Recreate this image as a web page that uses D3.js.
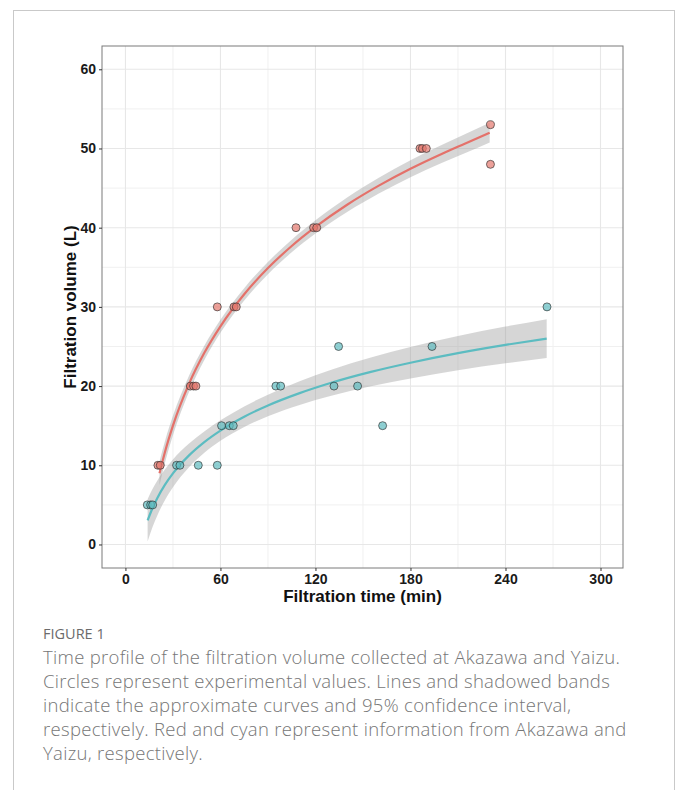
<!DOCTYPE html>
<html>
<head>
<meta charset="utf-8">
<script src="https://cdn.jsdelivr.net/npm/d3@7"></script>
<style>
  html, body { margin: 0; padding: 0; background: #fff; }
  svg { display: block; }
</style>
</head>
<body>
<svg id="chart" width="677" height="790"></svg>
<script>
const akazawaTime   = [20.5, 22, 41, 43, 44.5, 58, 68.5, 70, 107.7, 118.8, 120.8, 186, 187.5, 190, 230.5, 230.5];
const akazawaVolume = [10, 10, 20, 20, 20, 30, 30, 30, 40, 40, 40, 50, 50, 50, 53, 48];

const yaizuTime   = [13.8, 15.9, 17.2, 32.3, 34.4, 46, 58, 60.7, 65.6, 68.1, 95, 98, 131.7, 146.6, 134.6, 162.4, 193.6, 266.2];
const yaizuVolume = [5, 5, 5, 10, 10, 10, 10, 15, 15, 15, 20, 20, 20, 20, 25, 15, 25, 30];

// fitted curves and 95% bands
const akazawaFitTime = [21.5, 25, 30, 40, 50, 60, 75, 90, 105, 120, 140, 160, 180, 200, 215, 230];
const akazawaFit     = [8.98, 11.71, 15.01, 20.22, 24.26, 27.55, 31.59, 34.90, 37.69, 40.10, 42.90, 45.31, 47.44, 49.34, 50.66, 52.0];
const akazawaHalf    = [1.50, 1.37, 1.23, 1.03, 0.90, 0.82, 0.77, 0.77, 0.80, 0.84, 0.92, 1.00, 1.07, 1.14, 1.20, 1.25];

const yaizuFitTime = [14, 17, 20, 25, 30, 40, 50, 60, 75, 90, 110, 130, 155, 180, 210, 240, 266];
const yaizuFit     = [3.04, 4.55, 5.82, 7.56, 8.98, 11.22, 12.96, 14.38, 16.13, 17.55, 19.11, 20.42, 21.79, 22.95, 24.16, 25.20, 26.00];
const yaizuHalf    = [2.66, 2.41, 2.21, 1.95, 1.75, 1.49, 1.35, 1.29, 1.30, 1.36, 1.49, 1.64, 1.81, 1.98, 2.16, 2.32, 2.45];

const xTicks = [0, 60, 120, 180, 240, 300];
const xMinor = [30, 90, 150, 210, 270];
const yTicks = [0, 10, 20, 30, 40, 50, 60];
const yMinor = [5, 15, 25, 35, 45, 55];

const captionTitle = 'FIGURE 1';
const captionLines = [
  'Time profile of the filtration volume collected at Akazawa and Yaizu.',
  'Circles represent experimental values. Lines and shadowed bands',
  'indicate the approximate curves and 95% confidence interval,',
  'respectively. Red and cyan represent information from Akazawa and',
  'Yaizu, respectively.'
];

const RED_LINE = '#e4716a';
const RED_FILL = '#e4776e';
const CYAN_LINE = '#5cbcc1';
const CYAN_FILL = '#5fbcc1';

const svg = d3.select('#chart');

// outer frame
svg.append('rect')
    .attr('x', 13.5).attr('y', 10.5)
    .attr('width', 661).attr('height', 820)
    .attr('fill', '#fff')
    .attr('stroke', '#c9c9c9').attr('stroke-width', 1);

const panel = { left: 102, top: 46, right: 623, bottom: 568 };

const x = d3.scaleLinear().domain([-14.8, 314.2]).range([panel.left, panel.right]);
const y = d3.scaleLinear().domain([-2.97, 62.94]).range([panel.bottom, panel.top]);

const g = svg.append('g');

// grid
g.selectAll('.xminor').data(xMinor).join('line')
    .attr('x1', d => x(d)).attr('x2', d => x(d))
    .attr('y1', panel.top).attr('y2', panel.bottom)
    .attr('stroke', '#f0f0f0').attr('stroke-width', 1);
g.selectAll('.yminor').data(yMinor).join('line')
    .attr('x1', panel.left).attr('x2', panel.right)
    .attr('y1', d => y(d)).attr('y2', d => y(d))
    .attr('stroke', '#f0f0f0').attr('stroke-width', 1);
g.selectAll('.xmajor').data(xTicks).join('line')
    .attr('x1', d => x(d)).attr('x2', d => x(d))
    .attr('y1', panel.top).attr('y2', panel.bottom)
    .attr('stroke', '#e7e7e7').attr('stroke-width', 1.1);
g.selectAll('.ymajor').data(yTicks).join('line')
    .attr('x1', panel.left).attr('x2', panel.right)
    .attr('y1', d => y(d)).attr('y2', d => y(d))
    .attr('stroke', '#e7e7e7').attr('stroke-width', 1.1);

// bands and lines
function drawFit(ts, fit, half, color) {
  const rows = ts.map((t, i) => ({ t, v: fit[i], lo: fit[i] - half[i], hi: fit[i] + half[i] }));
  const area = d3.area()
      .x(d => x(d.t)).y0(d => y(d.lo)).y1(d => y(d.hi))
      .curve(d3.curveMonotoneX);
  const line = d3.line()
      .x(d => x(d.t)).y(d => y(d.v))
      .curve(d3.curveMonotoneX);
  g.append('path')
      .attr('d', area(rows))
      .attr('fill', '#999').attr('fill-opacity', 0.4);
  g.append('path')
      .attr('d', line(rows))
      .attr('fill', 'none')
      .attr('stroke', color).attr('stroke-width', 2.2);
}

drawFit(akazawaFitTime, akazawaFit, akazawaHalf, RED_LINE);
drawFit(yaizuFitTime, yaizuFit, yaizuHalf, CYAN_LINE);

// points
function drawPoints(ts, vs, fill) {
  g.append('g').selectAll('circle')
    .data(ts.map((t, i) => ({ t, v: vs[i] })))
    .join('circle')
      .attr('cx', d => x(d.t)).attr('cy', d => y(d.v))
      .attr('r', 4)
      .attr('fill', fill).attr('fill-opacity', 0.7)
      .attr('stroke', '#2b2b2b').attr('stroke-opacity', 0.8).attr('stroke-width', 0.8);
}

drawPoints(yaizuTime, yaizuVolume, CYAN_FILL);
drawPoints(akazawaTime, akazawaVolume, RED_FILL);

// panel border
svg.append('rect')
    .attr('x', panel.left).attr('y', panel.top)
    .attr('width', panel.right - panel.left).attr('height', panel.bottom - panel.top)
    .attr('fill', 'none')
    .attr('stroke', '#7a7a7a').attr('stroke-width', 1);

// axes
const xAxis = svg.append('g')
    .attr('transform', `translate(0,${panel.bottom})`)
    .call(d3.axisBottom(x).tickValues(xTicks).tickSize(3).tickPadding(3));
const yAxis = svg.append('g')
    .attr('transform', `translate(${panel.left},0)`)
    .call(d3.axisLeft(y).tickValues(yTicks).tickSize(3).tickPadding(3));

[xAxis, yAxis].forEach(a => {
  a.select('.domain').remove();
  a.selectAll('.tick line').attr('stroke', '#333');
  a.selectAll('.tick text')
      .attr('fill', '#1a1a1a')
      .attr('font-family', '"Liberation Sans", Arial, Helvetica, sans-serif')
      .attr('font-size', 14)
      .attr('font-weight', 'bold');
});

// axis titles
svg.append('text')
    .attr('x', (panel.left + panel.right) / 2).attr('y', 602)
    .attr('text-anchor', 'middle')
    .attr('font-family', '"Liberation Sans", Arial, Helvetica, sans-serif')
    .attr('font-size', 17).attr('font-weight', 'bold')
    .attr('fill', '#111')
    .text('Filtration time (min)');

svg.append('text')
    .attr('transform', `translate(76,${(panel.top + panel.bottom) / 2}) rotate(-90)`)
    .attr('text-anchor', 'middle')
    .attr('font-family', '"Liberation Sans", Arial, Helvetica, sans-serif')
    .attr('font-size', 17).attr('font-weight', 'bold')
    .attr('fill', '#111')
    .text('Filtration volume (L)');

// caption
svg.append('text')
    .attr('x', 43).attr('y', 639)
    .attr('font-family', '"Open Sans", "Noto Sans", sans-serif')
    .attr('font-size', 14.5)
    .attr('fill', '#6b6b6b')
    .text(captionTitle);

svg.append('g').selectAll('text')
  .data(captionLines)
  .join('text')
    .attr('x', 43)
    .attr('y', (d, i) => 664 + i * 24)
    .attr('font-family', '"Open Sans", "Noto Sans", sans-serif')
    .attr('font-size', 18.5)
    .attr('font-weight', 300)
    .attr('letter-spacing', 0.3)
    .attr('fill', '#767676')
    .text(d => d);
</script>
</body>
</html>
